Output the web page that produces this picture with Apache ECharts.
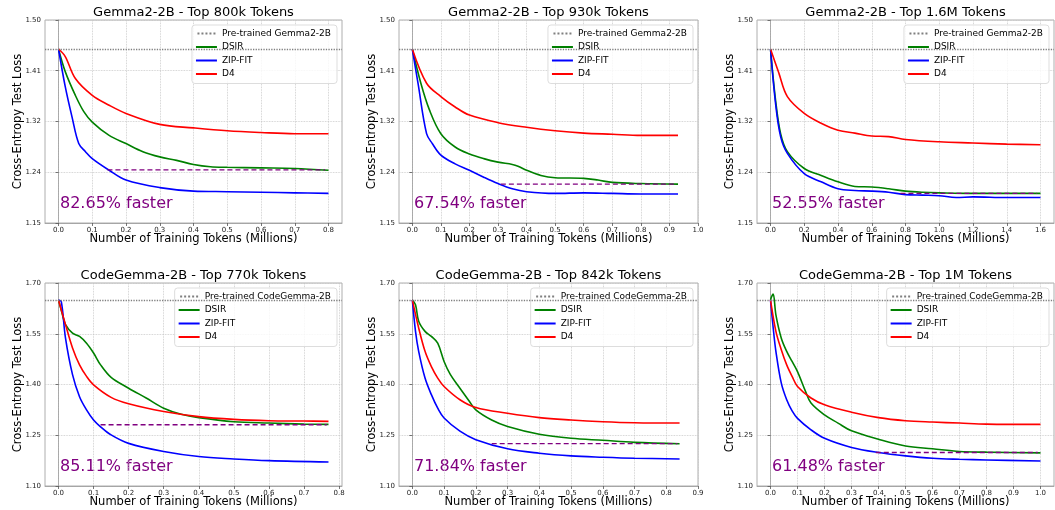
<!DOCTYPE html>
<html>
<head>
<meta charset="utf-8">
<script src="https://cdn.jsdelivr.net/npm/echarts@6/dist/echarts.min.js"></script>
<style>
    html, body { margin: 0; padding: 0; background: #fff; }
    #chart { width: 1055px; height: 510px; }
</style>
</head>
<body>
<div id="chart"></div>
<script>
(function () {

    // ---- data ----
    var titles = [
        'Gemma2-2B - Top 800k Tokens',
        'Gemma2-2B - Top 930k Tokens',
        'Gemma2-2B - Top 1.6M Tokens',
        'CodeGemma-2B - Top 770k Tokens',
        'CodeGemma-2B - Top 842k Tokens',
        'CodeGemma-2B - Top 1M Tokens'
    ];
    var fasterLabels = ['82.65% faster', '67.54% faster', '52.55% faster',
                        '85.11% faster', '71.84% faster', '61.48% faster'];
    var pretrainedNames = ['Pre-trained Gemma2-2B', 'Pre-trained CodeGemma-2B'];
    var pretrainedLoss = [1.45, 1.65];

    var xTicks = [
        [0, 0.1, 0.2, 0.3, 0.4, 0.5, 0.6, 0.7, 0.8],
        [0, 0.1, 0.2, 0.3, 0.4, 0.5, 0.6, 0.7, 0.8, 0.9, 1.0],
        [0, 0.2, 0.4, 0.6, 0.8, 1.0, 1.2, 1.4, 1.6],
        [0, 0.1, 0.2, 0.3, 0.4, 0.5, 0.6, 0.7, 0.8],
        [0, 0.1, 0.2, 0.3, 0.4, 0.5, 0.6, 0.7, 0.8, 0.9],
        [0, 0.1, 0.2, 0.3, 0.4, 0.5, 0.6, 0.7, 0.8, 0.9, 1.0]
    ];
    var xRanges = [[-0.04, 0.84], [-0.0465, 1.0], [-0.08, 1.68],
                   [-0.0385, 0.8085], [-0.042, 0.9], [-0.05, 1.05]];

    var yTicksTop = [1.15, 1.2375, 1.325, 1.4125, 1.5];
    var yLabelsTop = ['1.15', '1.24', '1.32', '1.41', '1.50'];
    var yTicksBottom = [1.10, 1.25, 1.40, 1.55, 1.70];
    var yLabelsBottom = ['1.10', '1.25', '1.40', '1.55', '1.70'];

    // Gemma2-2B, 800k
    var dsir800 = [[0,1.45],[0.02,1.411],[0.05,1.370],[0.075,1.342],[0.1,1.324],[0.15,1.301],[0.2,1.287],[0.25,1.273],[0.3,1.264],[0.35,1.258],[0.4,1.251],[0.45,1.247],[0.5,1.246],[0.6,1.245],[0.7,1.244],[0.8,1.241]];
    var zip800 = [[0,1.45],[0.02,1.385],[0.04,1.333],[0.06,1.287],[0.08,1.273],[0.1,1.261],[0.15,1.241],[0.2,1.224],[0.3,1.211],[0.4,1.205],[0.5,1.204],[0.6,1.203],[0.7,1.202],[0.8,1.201]];
    var d4800 = [[0,1.45],[0.02,1.437],[0.05,1.399],[0.1,1.370],[0.15,1.353],[0.2,1.339],[0.3,1.320],[0.4,1.314],[0.5,1.309],[0.6,1.306],[0.7,1.304],[0.8,1.304]];
    var gap800 = [[0.145,1.2415],[0.79,1.2415]];

    // Gemma2-2B, 930k
    var dsir930 = [[0,1.45],[0.03,1.391],[0.06,1.345],[0.1,1.304],[0.15,1.281],[0.2,1.269],[0.25,1.261],[0.3,1.255],[0.35,1.251],[0.37,1.248],[0.4,1.241],[0.45,1.232],[0.5,1.228],[0.6,1.227],[0.65,1.224],[0.7,1.220],[0.8,1.218],[0.93,1.217]];
    var zip930 = [[0,1.45],[0.02,1.391],[0.05,1.304],[0.07,1.287],[0.1,1.267],[0.15,1.252],[0.2,1.241],[0.25,1.229],[0.3,1.218],[0.35,1.209],[0.4,1.204],[0.5,1.201],[0.6,1.202],[0.7,1.201],[0.8,1.200],[0.93,1.200]];
    var d4930 = [[0,1.45],[0.05,1.391],[0.1,1.368],[0.15,1.350],[0.2,1.336],[0.3,1.323],[0.4,1.315],[0.5,1.309],[0.6,1.305],[0.7,1.303],[0.8,1.301],[0.93,1.301]];
    var gap930 = [[0.31,1.217],[0.92,1.217]];

    // Gemma2-2B, 1.6M
    var dsir16 = [[0,1.45],[0.03,1.362],[0.06,1.304],[0.1,1.273],[0.2,1.244],[0.3,1.232],[0.4,1.221],[0.5,1.213],[0.6,1.212],[0.7,1.209],[0.8,1.205],[0.9,1.203],[1.0,1.202],[1.2,1.201],[1.6,1.201]];
    var zip16 = [[0,1.45],[0.03,1.356],[0.06,1.299],[0.1,1.270],[0.2,1.235],[0.3,1.221],[0.4,1.209],[0.5,1.206],[0.6,1.205],[0.7,1.203],[0.8,1.199],[0.9,1.198],[1.0,1.197],[1.1,1.194],[1.2,1.195],[1.4,1.194],[1.6,1.194]];
    var d416 = [[0,1.45],[0.05,1.408],[0.1,1.368],[0.2,1.339],[0.3,1.322],[0.4,1.310],[0.5,1.305],[0.6,1.300],[0.7,1.299],[0.8,1.294],[1.0,1.290],[1.2,1.288],[1.4,1.286],[1.6,1.285]];
    var gap16 = [[0.77,1.201],[1.58,1.201]];

    // CodeGemma-2B, 770k
    var dsir770 = [[0,1.65],[0.01,1.611],[0.02,1.577],[0.04,1.552],[0.06,1.542],[0.08,1.522],[0.1,1.493],[0.12,1.458],[0.15,1.421],[0.2,1.389],[0.25,1.360],[0.3,1.330],[0.35,1.312],[0.4,1.302],[0.5,1.290],[0.6,1.286],[0.7,1.283],[0.77,1.282]];
    var zip770 = [[0,1.65],[0.008,1.645],[0.02,1.537],[0.04,1.429],[0.06,1.364],[0.08,1.325],[0.1,1.295],[0.12,1.275],[0.15,1.251],[0.2,1.226],[0.3,1.202],[0.4,1.187],[0.5,1.180],[0.6,1.175],[0.77,1.171]];
    var d4770 = [[0,1.65],[0.02,1.577],[0.04,1.508],[0.06,1.458],[0.08,1.424],[0.1,1.399],[0.15,1.362],[0.2,1.343],[0.3,1.320],[0.4,1.305],[0.5,1.297],[0.6,1.293],[0.7,1.292],[0.77,1.291]];
    var gap770 = [[0.12,1.281],[0.765,1.281]];

    // CodeGemma-2B, 842k
    var dsir842 = [[0,1.65],[0.01,1.636],[0.02,1.587],[0.04,1.557],[0.06,1.542],[0.08,1.522],[0.1,1.468],[0.12,1.429],[0.15,1.389],[0.18,1.350],[0.2,1.325],[0.25,1.295],[0.3,1.276],[0.4,1.253],[0.5,1.241],[0.6,1.235],[0.7,1.229],[0.842,1.225]];
    var zip842 = [[0,1.65],[0.01,1.557],[0.02,1.498],[0.04,1.419],[0.06,1.370],[0.08,1.330],[0.1,1.301],[0.15,1.262],[0.2,1.237],[0.3,1.210],[0.4,1.197],[0.5,1.189],[0.6,1.185],[0.7,1.182],[0.842,1.180]];
    var d4842 = [[0,1.65],[0.02,1.567],[0.04,1.498],[0.06,1.453],[0.08,1.419],[0.1,1.394],[0.15,1.355],[0.2,1.332],[0.3,1.315],[0.4,1.302],[0.5,1.295],[0.6,1.290],[0.7,1.287],[0.842,1.286]];
    var gap842 = [[0.25,1.225],[0.835,1.225]];

    // CodeGemma-2B, 1M
    var dsir1m = [[0,1.65],[0.005,1.661],[0.01,1.667],[0.02,1.606],[0.04,1.537],[0.06,1.498],[0.08,1.468],[0.1,1.438],[0.13,1.379],[0.15,1.345],[0.2,1.310],[0.25,1.286],[0.3,1.263],[0.4,1.238],[0.5,1.218],[0.6,1.210],[0.7,1.202],[0.8,1.200],[1.0,1.198]];
    var zip1m = [[0,1.65],[0.01,1.567],[0.02,1.498],[0.04,1.404],[0.06,1.355],[0.08,1.322],[0.1,1.300],[0.15,1.266],[0.2,1.241],[0.3,1.214],[0.4,1.199],[0.5,1.189],[0.6,1.182],[0.7,1.179],[0.8,1.177],[1.0,1.174]];
    var d41m = [[0,1.65],[0.02,1.557],[0.04,1.503],[0.06,1.458],[0.08,1.424],[0.1,1.394],[0.15,1.360],[0.2,1.340],[0.3,1.318],[0.4,1.302],[0.5,1.293],[0.6,1.289],[0.7,1.286],[0.8,1.283],[1.0,1.282]];
    var gap1m = [[0.39,1.199],[0.99,1.199]];

    var dsirData = [dsir800, dsir930, dsir16, dsir770, dsir842, dsir1m];
    var zipData = [zip800, zip930, zip16, zip770, zip842, zip1m];
    var d4Data = [d4800, d4930, d416, d4770, d4842, d41m];
    var gapData = [gap800, gap930, gap16, gap770, gap842, gap1m];

    // ---- layout ----
    var font = 'DejaVu Sans';
    var gridLefts = [45, 399, 757];
    var gridWidths = [297, 299, 297];
    var gridTops = [20, 283];
    var gridHeight = 203;
    var dottedIcon = 'path://M0,0h2v2h-2zM4,0h2v2h-2zM8,0h2v2h-2zM12,0h2v2h-2zM16,0h2v2h-2z';

    var grids = [], xAxes = [], yAxes = [], series = [], legends = [], titleList = [], graphics = [];

    for (var i = 0; i < 6; i++) {
        var col = i % 3;
        var row = Math.floor(i / 3);
        var left = gridLefts[col];
        var width = gridWidths[col];
        var top = gridTops[row];
        var pName = pretrainedNames[row];
        var yTicks = row === 0 ? yTicksTop : yTicksBottom;
        var yLabels = row === 0 ? yLabelsTop : yLabelsBottom;

        grids.push({
            left: left, top: top, width: width, height: gridHeight,
            show: true, borderColor: '#9a9a9a', borderWidth: 0.8
        });

        xAxes.push({
            gridIndex: i,
            type: 'value',
            min: xRanges[i][0],
            max: xRanges[i][1],
            name: 'Number of Training Tokens (Millions)',
            nameLocation: 'middle',
            nameGap: 10,
            nameMoveOverlap: false,
            nameTextStyle: { fontSize: 11.5, color: '#000', fontFamily: font },
            axisLine: { show: true, lineStyle: { color: '#9a9a9a', width: 0.8 } },
            axisTick: { customValues: xTicks[i], length: 3, lineStyle: { color: '#555', width: 0.8 } },
            axisLabel: {
                customValues: xTicks[i], fontSize: 7, color: '#222', margin: 4, fontFamily: font,
                formatter: function (v) { return v.toFixed(1); }
            },
            splitLine: { show: true, lineStyle: { type: 'dotted', color: '#c4c4c4', width: 0.8 } }
        });

        yAxes.push({
            gridIndex: i,
            type: 'value',
            min: yTicks[0],
            max: yTicks[yTicks.length - 1],
            name: 'Cross-Entropy Test Loss',
            nameLocation: 'middle',
            nameGap: 21,
            nameMoveOverlap: false,
            nameTextStyle: { fontSize: 11.5, color: '#000', fontFamily: font },
            axisLine: { show: true, lineStyle: { color: '#9a9a9a', width: 0.8 } },
            axisTick: { show: true, customValues: yTicks, length: 3, lineStyle: { color: '#555', width: 0.8 } },
            axisLabel: {
                customValues: yTicks, fontSize: 7, color: '#222', margin: 4, fontFamily: font,
                formatter: (function (ticks, labels) {
                    return function (v) {
                        var best = 0;
                        for (var k = 1; k < ticks.length; k++) {
                            if (Math.abs(ticks[k] - v) < Math.abs(ticks[best] - v)) best = k;
                        }
                        return labels[best];
                    };
                })(yTicks, yLabels)
            },
            splitLine: { show: true, lineStyle: { type: 'dotted', color: '#c4c4c4', width: 0.8 } }
        });

        series.push({
            name: pName,
            type: 'line',
            xAxisIndex: i, yAxisIndex: i,
            data: [],
            symbol: 'none',
            lineStyle: { color: '#7f7f7f', type: 'dotted', width: 1.3 },
            itemStyle: { color: '#7f7f7f' },
            markLine: {
                silent: true,
                symbol: 'none',
                label: { show: false },
                lineStyle: { color: '#7f7f7f', type: 'dotted', width: 1.3 },
                data: [{ yAxis: pretrainedLoss[row] }]
            }
        });
        series.push(makeLine('DSIR', '#008000', dsirData[i], i));
        series.push(makeLine('ZIP-FIT', '#0000ff', zipData[i], i));
        series.push(makeLine('D4', '#ff0000', d4Data[i], i));
        series.push({
            type: 'line',
            xAxisIndex: i, yAxisIndex: i,
            data: gapData[i],
            symbol: 'none',
            silent: true,
            z: 5,
            lineStyle: { color: '#800080', type: [5, 3], width: 1.3 }
        });

        legends.push({
            data: [
                { name: pName, icon: dottedIcon },
                { name: 'DSIR', icon: 'rect' },
                { name: 'ZIP-FIT', icon: 'rect' },
                { name: 'D4', icon: 'rect' }
            ],
            orient: 'vertical',
            right: 1055 - (left + width) + 5,
            top: top + 5,
            itemWidth: 21,
            itemHeight: 2,
            itemGap: 4.5,
            selectedMode: false,
            textStyle: { fontSize: 9, color: '#000', fontFamily: font },
            borderColor: '#d4d4d4',
            borderWidth: 0.8,
            borderRadius: 3,
            padding: [4, 6, 5, 4],
            backgroundColor: 'rgba(255,255,255,0.8)'
        });

        titleList.push({
            text: titles[i],
            left: left + width / 2,
            top: top - 14,
            padding: 0,
            textAlign: 'center',
            textStyle: { fontSize: 13, fontWeight: 'normal', color: '#000', fontFamily: font }
        });

        graphics.push({
            type: 'text',
            left: left + 15,
            top: top + 176,
            style: { text: fasterLabels[i], fontSize: 16, fill: '#800080', fontFamily: font }
        });
    }

    function makeLine(name, color, data, idx) {
        return {
            name: name,
            type: 'line',
            xAxisIndex: idx, yAxisIndex: idx,
            data: data,
            symbol: 'none',
            smooth: 0.35,
            lineStyle: { color: color, width: 1.6 },
            itemStyle: { color: color }
        };
    }

    var chart = echarts.init(document.getElementById('chart'), null, { renderer: 'canvas' });
    chart.setOption({
        animation: false,
        backgroundColor: '#fff',
        textStyle: { fontFamily: font },
        title: titleList,
        grid: grids,
        xAxis: xAxes,
        yAxis: yAxes,
        legend: legends,
        series: series,
        graphic: graphics
    });
})();
</script>
</body>
</html>
